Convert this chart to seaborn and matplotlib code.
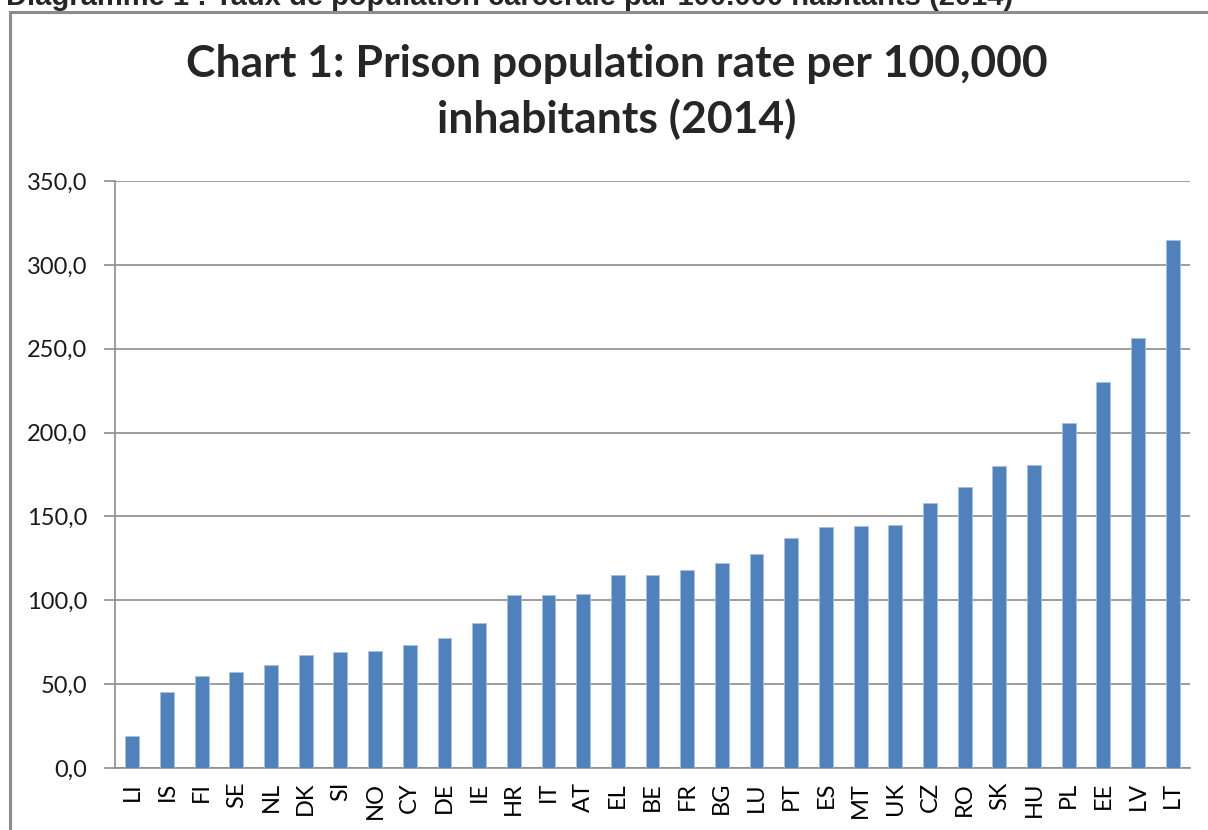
import numpy as np
import matplotlib
matplotlib.use('Agg')
import matplotlib.pyplot as plt
import seaborn as sns
import pandas as pd
from matplotlib.patches import Rectangle
from matplotlib.ticker import FuncFormatter, FixedLocator

countries = ['LI', 'IS', 'FI', 'SE', 'NL', 'DK', 'SI', 'NO', 'CY', 'DE', 'IE',
             'HR', 'IT', 'AT', 'EL', 'BE', 'FR', 'BG', 'LU', 'PT', 'ES', 'MT',
             'UK', 'CZ', 'RO', 'SK', 'HU', 'PL', 'EE', 'LV', 'LT']
rates = [19.3, 45.2, 55.0, 57.3, 61.3, 67.3, 69.1, 69.7, 73.5, 77.4, 86.5,
         103.2, 103.2, 104.0, 115.3, 115.3, 118.3, 122.3, 127.5, 137.1, 143.7, 144.3,
         144.9, 158.0, 167.6, 180.1, 180.7, 205.6, 230.1, 256.5, 314.7]

df = pd.DataFrame({'country': countries, 'rate': rates})

sns.set_style('white')
plt.rcParams['font.family'] = ['Lato', 'DejaVu Sans']

fig = plt.figure(figsize=(12.08, 8.30), dpi=100)
ax = fig.add_axes([115/1208, 1 - 768/830, (1190 - 115)/1208, (768 - 181)/830])

sns.barplot(data=df, x='country', y='rate', color='#4F81BD', saturation=1,
            width=0.4, ax=ax, zorder=3)
for p in ax.patches:
    p.set_edgecolor('#A9C0DE')
    p.set_linewidth(0.6)

ax.set_xlim(-0.5, len(countries) - 0.5)
ax.set_ylim(0, 350)
ax.set_yticks(np.arange(0, 351, 50))
ax.yaxis.set_major_formatter(FuncFormatter(lambda v, pos: f'{v:.1f}'.replace('.', ',')))
ax.grid(axis='y', color='#8C8C8C', linewidth=1.2, zorder=0)
ax.set_axisbelow(True)

# tick marks between categories
ax.xaxis.set_major_locator(FixedLocator(np.arange(len(countries))))
ax.set_xticklabels(countries, rotation=90)
ax.xaxis.set_minor_locator(FixedLocator(np.arange(-0.5, len(countries), 1)))
ax.tick_params(axis='x', which='major', length=0, pad=10, labelsize=17, colors='black')
ax.tick_params(axis='x', which='minor', length=8, width=1.2, color='#8C8C8C', direction='out')
ax.tick_params(axis='y', length=8, width=1.2, color='#8C8C8C', direction='out',
               labelsize=17, labelcolor='#1a1a1a', left=True, pad=12)

for s in ['top', 'right']:
    ax.spines[s].set_visible(False)
for s in ['left', 'bottom']:
    ax.spines[s].set_color('#8C8C8C')
    ax.spines[s].set_linewidth(1.2)

ax.set_xlabel('')
ax.set_ylabel('')

fig.text(617/1208, 1 - 92/830, 'Chart 1: Prison population rate per 100,000\ninhabitants (2014)',
         ha='center', va='center', fontsize=32, fontweight='bold', linespacing=1.4)

# outer chart frame
fig.patches.append(Rectangle((10/1208, -0.05), 1.1, 1 - 12/830 + 0.05,
                             transform=fig.transFigure, fill=False,
                             edgecolor='#8C8C8C', linewidth=2.2))

# cut-off document caption above the frame
fig.text(6/1208, 1 - 5/830, 'Diagramme 1 : Taux de population carcérale par 100.000 habitants (2014)',
         ha='left', va='baseline', fontsize=21, fontweight='bold',
         family=['Liberation Sans', 'DejaVu Sans'])

fig.savefig('out.png', dpi=100)
